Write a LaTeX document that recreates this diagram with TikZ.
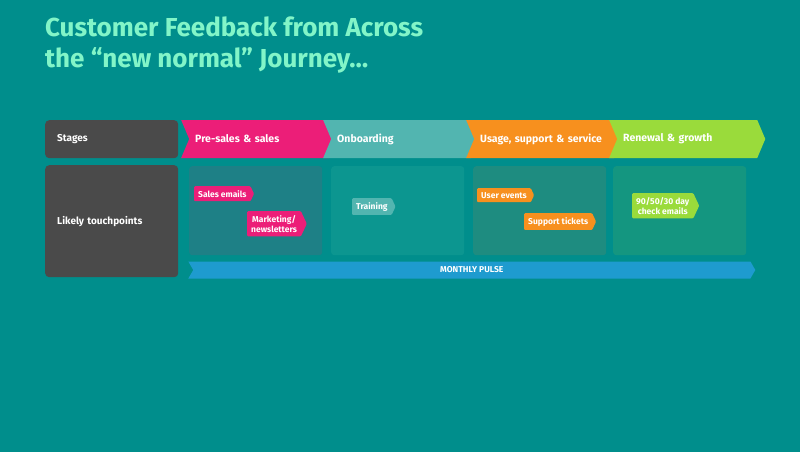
\documentclass[tikz,border=0pt]{standalone}
\usepackage{fontspec}
\setmainfont{Fira Sans}
\usetikzlibrary{shapes.symbols,positioning}
\definecolor{bgteal}{RGB}{0,142,140}
\definecolor{titlemint}{RGB}{130,245,200}
\definecolor{darkgrey}{RGB}{74,74,74}
\definecolor{fbpink}{RGB}{236,30,120}
\definecolor{fbteal}{RGB}{82,181,176}
\definecolor{fborange}{RGB}{247,144,30}
\definecolor{fbgreen}{RGB}{154,219,59}
\definecolor{fbblue}{RGB}{30,155,207}
\definecolor{zonea}{RGB}{30,128,134}
\definecolor{zoneb}{RGB}{12,150,144}
\definecolor{zonec}{RGB}{30,140,128}
\definecolor{zoned}{RGB}{20,150,128}

\begin{document}
\begin{tikzpicture}[x=1pt, y=-1pt,
    label/.style={rectangle, rounded corners=4pt, fill=darkgrey, text=white, font=\fontsize{10}{12}\selectfont\bfseries, anchor=north west, inner xsep=12pt, text width=109pt, align=left},
    stage/.style={signal, signal to=east, signal from=west, signal pointer angle=134, fill=#1, text=white, font=\fontsize{10.5}{12}\selectfont\bfseries, minimum height=38pt, minimum width=148pt, anchor=west, inner xsep=6pt, text width=128pt, align=left},
    zone/.style={rectangle, rounded corners=3pt, fill=#1, minimum width=133pt, minimum height=89pt, anchor=north west},
    tag/.style={signal, signal to=east, signal pointer angle=130, rounded corners=1pt, fill=#1, text=white, font=\fontsize{8.5}{10}\selectfont\bfseries, anchor=north west, inner xsep=4pt, inner ysep=4pt, align=center},
    pulse/.style={signal, signal to=east, signal from=west, signal pointer angle=120, fill=fbblue, text=white, font=\fontsize{8.5}{10}\selectfont\bfseries, minimum height=17pt, minimum width=567pt, anchor=west}]

    \fill[bgteal] (0,0) rectangle (800,452);
    \useasboundingbox (0,0) rectangle (800,452);

    % title
    \node[anchor=north west, text=titlemint, font=\fontsize{26}{31}\selectfont\bfseries, align=left, inner sep=0pt] (title) at (45,17)
        {Customer Feedback from Across\\the “new normal” Journey…};

    % row labels
    \node[label, minimum height=38pt] (stages) at (45,120) {Stages};
    \node[label, minimum height=112pt] (touch) at (45,165) {Likely touchpoints};

    % stages
    \node[stage=fbpink] (presales) at (189,139) {Pre-sales \& sales};
    \node[stage=fbteal] (onboard) at (331,139) {Onboarding};
    \node[stage=fborange] (usage) at (474,139) {Usage, support \& service};
    \node[stage=fbgreen] (renewal) at (617,139) {Renewal \& growth};

    % touchpoint zones
    \node[zone=zonea] (zone1) at (189,166) {};
    \node[zone=zoneb] (zone2) at (331,166) {};
    \node[zone=zonec] (zone3) at (473,166) {};
    \node[zone=zoned] (zone4) at (613,166) {};

    % touchpoints
    \node[tag=fbpink] (salesmail) at (194,186) {Sales emails};
    \node[tag=fbpink] (marketing) at (247,211) {Marketing/\\newsletters};
    \node[tag=fbteal] (training) at (352,198) {Training};
    \node[tag=fborange] (userevt) at (477,188) {User events};
    \node[tag=fborange] (support) at (524,213) {Support tickets};
    \node[tag=fbgreen] (checkmail) at (632,193) {90/50/30 day\\check emails};

    % pulse
    \node[pulse] (monthly) at (193,270) {MONTHLY PULSE};
\end{tikzpicture}
\end{document}
